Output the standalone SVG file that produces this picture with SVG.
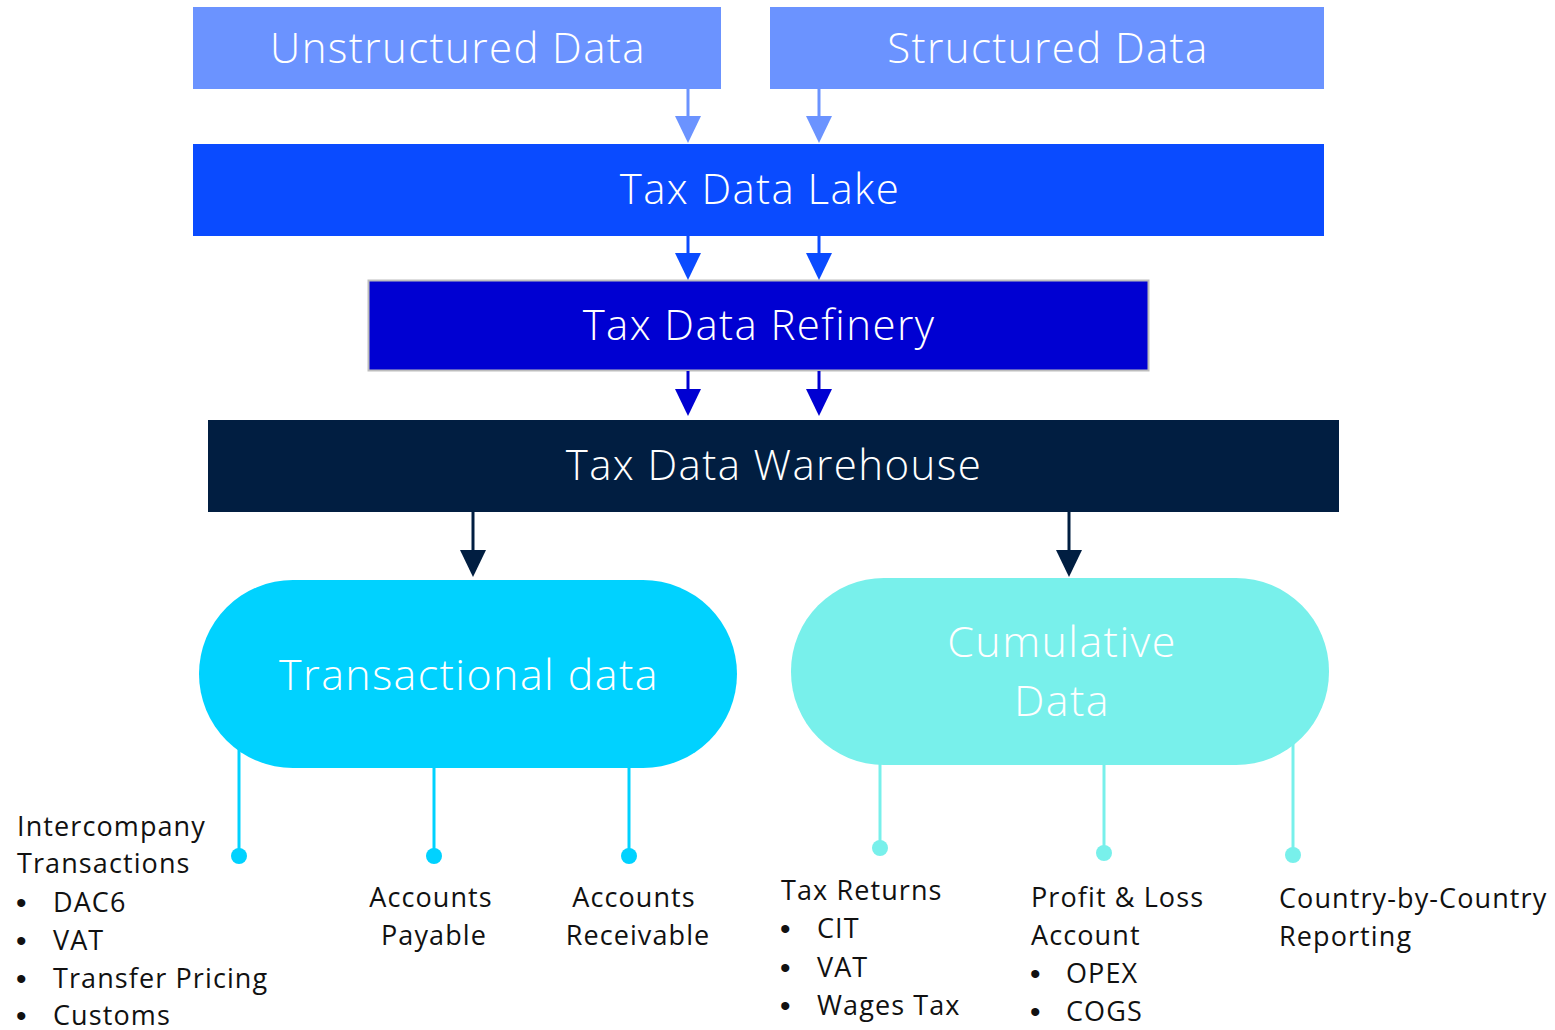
<svg xmlns="http://www.w3.org/2000/svg" width="1555" height="1030" viewBox="0 0 1555 1030">
<style>
.t{font-family:"Open Sans","Liberation Sans",sans-serif;font-weight:300;fill:#fff;text-anchor:middle;letter-spacing:1.4px}
.big{font-size:42px}
.lbl{font-family:"Open Sans","Liberation Sans",sans-serif;font-weight:400;font-size:27px;fill:#111;letter-spacing:1.1px}
.b{font-family:"Liberation Sans",sans-serif;font-size:30px;fill:#111}
.mid{text-anchor:middle}
.c1{stroke:#00D2FF;stroke-width:3;fill:none}
.c2{stroke:#78F0EB;stroke-width:3;fill:none}
</style>
<rect width="1555" height="1030" fill="#fff"/>
<g id="unstructured"><rect x="193" y="7" width="528" height="82" fill="#6B93FF"/><text class="t big" x="458" y="63">Unstructured Data</text></g>
<g id="structured"><rect x="770" y="7" width="554" height="82" fill="#6B93FF"/><text class="t big" x="1048" y="63">Structured Data</text></g>
<g id="lake"><rect x="193" y="144" width="1131" height="92" fill="#0A4BFF"/><text class="t big" x="760" y="204">Tax Data Lake</text></g>
<g id="refinery"><rect x="368.5" y="280.5" width="780" height="90" fill="#0000D2" stroke="#BDBDBD" stroke-width="2"/><text class="t big" x="759" y="340">Tax Data Refinery</text></g>
<g id="warehouse"><rect x="208" y="420" width="1131" height="92" fill="#011E41"/><text class="t big" x="774" y="480">Tax Data Warehouse</text></g>
<g id="transactional"><rect x="199" y="580" width="538" height="188" rx="94" fill="#00D2FF"/><text class="t" font-size="43" x="469" y="690">Transactional data</text></g>
<g id="cumulative"><rect x="791" y="578" width="538" height="187" rx="93" fill="#78F0EB"/><text class="t" font-size="43" x="1062" y="657">Cumulative</text><text class="t" font-size="43" x="1062" y="716">Data</text></g>
<g id="connectors">
<g stroke-width="3">
<line x1="688" y1="89" x2="688" y2="120" stroke="#6B93FF"/><path d="M675,116 L701,116 L688,143 Z" fill="#6B93FF"/>
<line x1="819" y1="89" x2="819" y2="120" stroke="#6B93FF"/><path d="M806,116 L832,116 L819,143 Z" fill="#6B93FF"/>
<line x1="688" y1="236" x2="688" y2="256" stroke="#0A4BFF"/><path d="M675,253 L701,253 L688,280 Z" fill="#0A4BFF"/>
<line x1="819" y1="236" x2="819" y2="256" stroke="#0A4BFF"/><path d="M806,253 L832,253 L819,280 Z" fill="#0A4BFF"/>
<line x1="688" y1="371" x2="688" y2="392" stroke="#0000D2"/><path d="M675,389 L701,389 L688,416 Z" fill="#0000D2"/>
<line x1="819" y1="371" x2="819" y2="392" stroke="#0000D2"/><path d="M806,389 L832,389 L819,416 Z" fill="#0000D2"/>
<line x1="473" y1="512" x2="473" y2="553" stroke="#011E41"/><path d="M460,550 L486,550 L473,577 Z" fill="#011E41"/>
<line x1="1069" y1="512" x2="1069" y2="553" stroke="#011E41"/><path d="M1056,550 L1082,550 L1069,577 Z" fill="#011E41"/>
</g>
<line class="c1" x1="239" y1="748" x2="239" y2="856"/><circle cx="239" cy="856" r="8" fill="#00D2FF"/>
<line class="c1" x1="434" y1="766" x2="434" y2="856"/><circle cx="434" cy="856" r="8" fill="#00D2FF"/>
<line class="c1" x1="629" y1="766" x2="629" y2="856"/><circle cx="629" cy="856" r="8" fill="#00D2FF"/>
<line class="c2" x1="880" y1="763" x2="880" y2="848"/><circle cx="880" cy="848" r="8" fill="#78F0EB"/>
<line class="c2" x1="1104" y1="763" x2="1104" y2="853"/><circle cx="1104" cy="853" r="8" fill="#78F0EB"/>
<line class="c2" x1="1293" y1="743" x2="1293" y2="855"/><circle cx="1293" cy="855" r="8" fill="#78F0EB"/>
</g>
<g id="labels">
<text class="lbl" x="17" y="836">Intercompany</text>
<text class="lbl" x="17" y="873">Transactions</text>
<text class="b" x="16" y="913">•</text><text class="lbl" x="53" y="912">DAC6</text>
<text class="b" x="16" y="951">•</text><text class="lbl" x="53" y="950">VAT</text>
<text class="b" x="16" y="989">•</text><text class="lbl" x="53" y="988">Transfer Pricing</text>
<text class="b" x="16" y="1026">•</text><text class="lbl" x="53" y="1025">Customs</text>
<text class="lbl mid" x="431" y="907">Accounts</text><text class="lbl mid" x="434" y="945">Payable</text>
<text class="lbl mid" x="634" y="907">Accounts</text><text class="lbl mid" x="638" y="945">Receivable</text>
<text class="lbl" x="781" y="900">Tax Returns</text>
<text class="b" x="780" y="939">•</text><text class="lbl" x="817" y="938">CIT</text>
<text class="b" x="780" y="978">•</text><text class="lbl" x="817" y="977">VAT</text>
<text class="b" x="780" y="1016">•</text><text class="lbl" x="817" y="1015">Wages Tax</text>
<text class="lbl" x="1031" y="907">Profit &amp; Loss</text>
<text class="lbl" x="1031" y="945">Account</text>
<text class="b" x="1030" y="984">•</text><text class="lbl" x="1066" y="983">OPEX</text>
<text class="b" x="1030" y="1022">•</text><text class="lbl" x="1066" y="1021">COGS</text>
<text class="lbl" x="1279" y="908">Country-by-Country</text>
<text class="lbl" x="1279" y="946">Reporting</text>
</g>
</svg>
